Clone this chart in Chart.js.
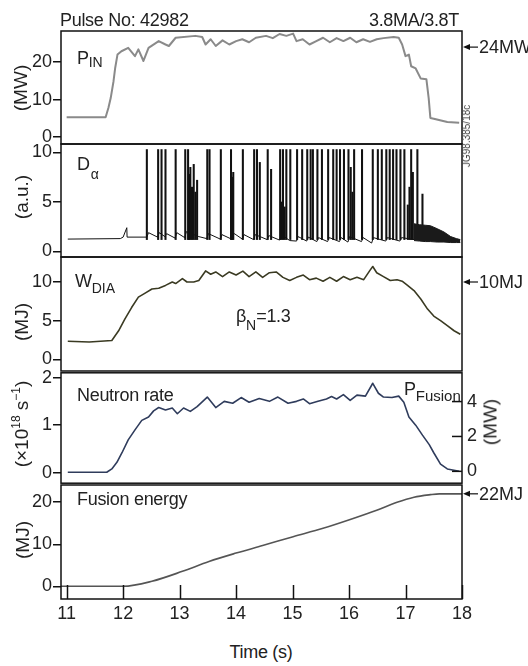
<!DOCTYPE html>
<html>
<head>
<meta charset="utf-8">
<script src="https://cdn.jsdelivr.net/npm/chart.js@4.4.1/dist/chart.umd.min.js"></script>
<style>
  body { margin: 0; background: #fff; }
  #fig { position: relative; width: 528px; height: 666px; overflow: hidden;
         font-family: 'Liberation Sans', Arial, sans-serif; color: #222; }
  #fig canvas { position: absolute; left: 0; }
  .lbl { position: absolute; font-size: 18px; line-height: 18px; white-space: nowrap; letter-spacing: -0.3px; }
  .sub { font-size: 14px; position: relative; letter-spacing: 0; }
  .rot { position: absolute; transform: translate(-50%, -50%) rotate(-90deg);
         white-space: nowrap; font-size: 19px; line-height: 19px; }
  .rot sup { font-size: 12px; line-height: 0; }
</style>
</head>
<body>
<div id="fig">
  <canvas id="cPin" width="528" height="141" style="top:17px"></canvas>
  <canvas id="cDa" width="528" height="141" style="top:130px"></canvas>
  <canvas id="cW" width="528" height="142" style="top:243px"></canvas>
  <canvas id="cN" width="528" height="142" style="top:357px"></canvas>
  <canvas id="cE" width="528" height="158" style="top:471px"></canvas>

  <div class="lbl" style="left:60px; top:11px">Pulse No: 42982</div>
  <div class="lbl" style="right:69px; top:11px">3.8MA/3.8T</div>

  <div class="lbl" style="left:77px; top:49px">P<span class="sub" style="top:3px">IN</span></div>
  <div class="lbl" style="left:77px; top:155px">D<span class="sub" style="top:9px; left:1px">α</span></div>
  <div class="lbl" style="left:75px; top:272px">W<span class="sub" style="top:6px">DIA</span></div>
  <div class="lbl" style="left:236px; top:307px">β<span class="sub" style="top:8px">N</span>=1.3</div>
  <div class="lbl" style="left:77px; top:386px">Neutron rate</div>
  <div class="lbl" style="left:404px; top:380px">P<span class="sub" style="top:6px; font-size:15px">Fusion</span></div>
  <div class="lbl" style="left:77px; top:490px">Fusion energy</div>
  <div class="lbl" style="left:261px; top:643px; transform: translateX(-50%)">Time (s)</div>

  <div class="rot" style="left:20px; top:88px">(MW)</div>
  <div class="rot" style="left:21px; top:197px">(a.u.)</div>
  <div class="rot" style="left:21px; top:322px">(MJ)</div>
  <div class="rot" style="left:21px; top:424px">(×10<sup>18</sup> s<sup>−1</sup>)</div>
  <div class="rot" style="left:22px; top:540px">(MJ)</div>
  <div class="rot" style="left:490px; top:422px">(MW)</div>
  <div class="rot" style="left:467px; top:136px; font-size:10px; line-height:10px; color:#444">JG98.385/18c</div>
</div>

<script>
// Time base shared by all traces (s)
const timeMin = 10.9;
const timeMax = 18;

// Input heating power (MW)
const pinT = [11.0, 11.69, 11.74, 11.78, 11.83, 11.86, 11.9, 11.97, 12.09, 12.21, 12.27, 12.36, 12.45,
  12.63, 12.75, 12.81, 12.93, 13.28, 13.4, 13.46, 13.55, 13.64, 13.76, 13.88, 14.0, 14.11, 14.23,
  14.35, 14.53, 14.65, 14.77, 14.89, 15.01, 15.07, 15.18, 15.3, 15.42, 15.54, 15.66, 15.78, 15.9,
  16.02, 16.13, 16.25, 16.37, 16.49, 16.61, 16.79, 16.88, 16.94, 17.0, 17.06, 17.1, 17.18, 17.27,
  17.37, 17.41, 17.44, 17.5, 17.74, 17.95];
const pinV = [5.3, 5.3, 7.8, 10.4, 14.9, 18.5, 22, 22.9, 23.8, 21.6, 23.4, 20.3, 23.8,
  25.6, 24.7, 24.3, 26.5, 27, 26.7, 24.7, 26.1, 24.3, 25.8, 24.7, 25.6, 26.1, 25.3,
  26.5, 27, 26.4, 27.5, 27, 27.6, 25.6, 26.1, 24.7, 25.6, 26.5, 25.3, 26.4, 25.6,
  26.5, 25.3, 26.1, 25.4, 26.1, 26.4, 26.7, 26.5, 24.7, 21.6, 22, 18.9, 18.3, 15.6,
  15.4, 10.4, 5.1, 4.9, 4.0, 3.8];

// D-alpha baseline between ELMs (a.u.)
const daT = [11.02, 11.95, 12.0, 12.065, 12.07, 12.42, 12.45, 12.61, 12.64, 12.74, 12.77, 12.92, 12.95,
  13.09, 13.12, 13.34, 13.48, 13.51, 13.72, 13.75, 13.9, 13.97, 14.11, 14.14, 14.31, 14.34, 14.55,
  14.58, 14.77, 14.8, 14.95, 15.07, 15.1, 15.25, 15.28, 15.43, 15.46, 15.62, 15.65, 15.83, 15.86,
  15.98, 16.01, 16.22, 16.25, 16.4, 16.43, 16.65, 16.68, 16.9, 16.93, 17.15];
const daV = [1.25, 1.3, 1.45, 2.4, 1.45, 1.45, 1.9, 1.45, 1.9, 1.5, 1.8, 1.35, 1.9,
  1.4, 2.0, 1.5, 1.3, 1.8, 1.25, 1.7, 1.3, 1.8, 1.25, 1.7, 1.2, 1.7, 1.2,
  1.6, 1.15, 1.7, 1.1, 1.05, 1.5, 1.05, 1.45, 1.0, 1.4, 1.0, 1.4, 1.0, 1.4,
  0.95, 1.5, 1.0, 1.4, 0.85, 1.4, 1.05, 1.4, 1.05, 1.4, 1.2];

// ELM spikes: time and peak height
const elmT = [12.42, 12.62, 12.68, 12.75, 12.93, 13.10, 13.15, 13.17, 13.19, 13.22, 13.25, 13.28, 13.31,
  13.49, 13.53, 13.73, 13.91, 13.93, 13.95, 14.12, 14.32, 14.37, 14.42, 14.56, 14.62, 14.78, 14.80,
  14.83, 14.86, 14.89, 14.96, 15.08, 15.17, 15.26, 15.32, 15.36, 15.44, 15.52, 15.63, 15.72, 15.78,
  15.84, 15.91, 15.99, 16.03, 16.06, 16.09, 16.23, 16.42, 16.51, 16.58, 16.66, 16.72, 16.78, 16.84,
  16.91, 16.98, 17.04, 17.07, 17.10, 17.13, 17.21, 17.30];
const elmPeak = [10.3, 10.3, 10.3, 10.3, 10.3, 10.3, 10.3, 7.8, 8.5, 6.5, 8.8, 6.0, 7.2,
  10.3, 10.3, 10.3, 10.3, 7.5, 8.0, 10.3, 10.3, 10.3, 9.0, 10.3, 8.3, 10.3, 5.0,
  10.3, 4.5, 10.3, 10.3, 10.3, 10.3, 10.3, 10.3, 10.3, 10.3, 10.3, 10.3, 10.3, 10.3,
  10.3, 10.3, 10.3, 8.5, 6.0, 10.3, 10.3, 10.3, 10.3, 10.3, 10.3, 10.3, 10.3, 10.3,
  10.3, 10.3, 4.7, 6.5, 10.3, 8.0, 10.3, 5.8];
const elmFloor = 1.2;

// Dense grassy ELM band at the end of the pulse (envelope)
const bandT = [17.15, 17.25, 17.35, 17.44, 17.56, 17.68, 17.8, 17.9, 17.97];
const bandTop = [2.8, 2.7, 2.65, 2.6, 2.3, 1.97, 1.5, 1.3, 1.2];
const bandLow = [1.1, 1.05, 1.0, 1.0, 0.95, 0.95, 0.9, 0.9, 0.9];

// Diamagnetic stored energy (MJ)
const wT = [11.02, 11.4, 11.8, 11.92, 12.03, 12.15, 12.27, 12.39, 12.51, 12.63, 12.75, 12.87, 12.93,
  13.05, 13.13, 13.25, 13.34, 13.46, 13.55, 13.64, 13.76, 13.88, 14.0, 14.12, 14.23, 14.35, 14.47,
  14.59, 14.71, 14.83, 14.95, 15.07, 15.19, 15.3, 15.42, 15.54, 15.66, 15.78, 15.9, 16.02, 16.14,
  16.26, 16.37, 16.42, 16.49, 16.61, 16.73, 16.85, 16.94, 17.03, 17.15, 17.27, 17.39, 17.5, 17.62,
  17.74, 17.86, 17.97];
const wV = [2.35, 2.25, 2.45, 3.7, 5.2, 6.7, 8.05, 8.57, 9.1, 9.2, 9.56, 10.0, 9.8,
  10.44, 10.0, 10.0, 10.2, 11.43, 11.0, 11.3, 10.7, 11.3, 10.9, 11.4, 10.7, 11.3, 10.6,
  11.2, 11.3, 10.6, 10.2, 10.6, 10.9, 10.3, 10.5, 10.1, 10.6, 10.1, 10.7, 10.3, 10.6,
  10.3, 11.5, 12.0, 11.2, 10.7, 10.2, 10.3, 10.1, 9.6, 8.9, 7.8, 6.5, 5.6, 5.0,
  4.35, 3.7, 3.25];

// Neutron rate (1e18 /s)
const nT = [11.02, 11.71, 11.8, 11.89, 11.98, 12.09, 12.21, 12.33, 12.45, 12.54, 12.63, 12.75, 12.87,
  12.96, 13.07, 13.19, 13.31, 13.49, 13.64, 13.79, 13.94, 14.09, 14.23, 14.41, 14.59, 14.74, 14.92,
  15.07, 15.19, 15.3, 15.45, 15.6, 15.69, 15.78, 15.9, 16.02, 16.14, 16.29, 16.42, 16.52, 16.61,
  16.76, 16.88, 16.97, 17.06, 17.18, 17.3, 17.42, 17.5, 17.62, 17.74, 17.95];
const nV = [0.01, 0.01, 0.08, 0.22, 0.42, 0.69, 0.9, 1.1, 1.17, 1.3, 1.37, 1.32, 1.36,
  1.24, 1.36, 1.29, 1.39, 1.59, 1.37, 1.5, 1.46, 1.58, 1.48, 1.56, 1.5, 1.59, 1.46,
  1.5, 1.55, 1.45, 1.5, 1.55, 1.6, 1.55, 1.64, 1.52, 1.63, 1.61, 1.88, 1.67, 1.59,
  1.58, 1.61, 1.48, 1.17, 1.0, 0.79, 0.59, 0.42, 0.18, 0.08, 0.03];

// Integrated fusion energy (MJ)
const eT = [10.9, 12.0, 12.51, 13.05, 13.52, 14.0, 14.47, 15.01, 15.54, 16.02, 16.49, 16.85, 17.15, 17.44, 17.6, 18.0];
const eV = [0, 0, 1.2, 3.56, 5.9, 7.9, 9.7, 11.8, 13.8, 15.9, 18.1, 20.0, 21.2, 21.8, 22, 22];

// Reference levels marked by arrows on the right edge
const pinRef = 24;
const wRef = 10;
const eRef = 22;

const FONT = "'Liberation Sans', Arial, sans-serif";
Chart.defaults.font.family = FONT;
Chart.defaults.font.size = 18;
Chart.defaults.color = '#222';

const pts = (ts, vs) => ts.map((t, i) => ({ x: t, y: vs[i] }));

// frame around each panel, inward ticks and the arrow markers
const framePlugin = {
  id: 'frame',
  afterDatasetsDraw(chart, args, opts) {
    const { ctx, chartArea: a } = chart;
    ctx.save();
    ctx.strokeStyle = '#111';
    ctx.lineWidth = 1.5;
    ctx.strokeRect(a.left, a.top, a.right - a.left, a.bottom - a.top);
    if (opts.innerX) {
      const xs = chart.scales.x;
      xs.ticks.forEach(t => {
        const px = Math.round(xs.getPixelForValue(t.value)) + 0.5;
        ctx.beginPath(); ctx.moveTo(px, a.bottom); ctx.lineTo(px, a.bottom - 14); ctx.stroke();
      });
    }
    if (opts.innerRight) {
      const ys = chart.scales.y2;
      ys.ticks.forEach(t => {
        const py = ys.getPixelForValue(t.value);
        ctx.beginPath(); ctx.moveTo(a.right, py); ctx.lineTo(a.right - 10, py); ctx.stroke();
      });
    }
    if (opts.marker) {
      const py = chart.scales.y.getPixelForValue(opts.marker.value);
      const x0 = a.right + 1;
      ctx.lineWidth = 1.2;
      ctx.beginPath(); ctx.moveTo(x0 + 4, py); ctx.lineTo(x0 + 15, py); ctx.stroke();
      ctx.fillStyle = '#111';
      ctx.beginPath(); ctx.moveTo(x0, py); ctx.lineTo(x0 + 7, py - 3); ctx.lineTo(x0 + 7, py + 3); ctx.closePath(); ctx.fill();
      ctx.font = '18px ' + FONT;
      ctx.fillStyle = '#222';
      ctx.textBaseline = 'middle';
      ctx.fillText(opts.marker.text, x0 + 16, py + 1);
    }
    ctx.restore();
  }
};

function panel(id, datasets, y, opts) {
  const scales = {
    x: {
      type: 'linear', min: timeMin, max: timeMax, offset: false, display: !!opts.xTicks,
      grid: { display: false, drawTicks: false }, border: { display: false },
      ticks: { stepSize: 1, includeBounds: false, autoSkip: false, maxRotation: 0, padding: 4 }
    },
    y: {
      min: y.min, max: y.max,
      afterFit: s => { s.width = 61; },
      border: { display: false },
      grid: { drawOnChartArea: false, tickLength: 8, color: '#111', lineWidth: 1.5 },
      ticks: { stepSize: y.step, includeBounds: false, padding: 1 }
    }
  };
  if (opts.xTicks) scales.x.afterFit = s => { s.height = 30; };
  if (opts.y2) {
    scales.y2 = {
      position: 'right', min: opts.y2.min, max: opts.y2.max,
      afterFit: s => { s.width = 66; },
      border: { display: false },
      grid: { display: false, drawTicks: false },
      ticks: { stepSize: opts.y2.step, includeBounds: false, padding: 5 }
    };
  }
  return new Chart(document.getElementById(id), {
    type: 'line',
    data: { datasets },
    options: {
      responsive: false, animation: false, events: [],
      layout: { padding: { top: 14, bottom: opts.xTicks ? 0 : 14, left: 0, right: opts.y2 ? 0 : 66 } },
      plugins: { legend: { display: false }, tooltip: { enabled: false }, frame: opts.frame || {} },
      elements: { point: { radius: 0 }, line: { borderJoinStyle: 'round', tension: 0 } },
      scales
    },
    plugins: [framePlugin]
  });
}

panel('cPin', [
  { data: pts(pinT, pinV), borderColor: '#8a8a8a', borderWidth: 2 }
], { min: -1.85, max: 28.3, step: 10 }, { frame: { marker: { value: pinRef, text: pinRef + 'MW' } } });

panel('cDa', [
  { data: pts(daT, daV), borderColor: '#111', borderWidth: 1 },
  { data: pts(bandT, bandTop), borderColor: '#1a1a1a', borderWidth: 1, backgroundColor: '#1a1a1a', fill: '+1' },
  { data: pts(bandT, bandLow), borderColor: '#1a1a1a', borderWidth: 1 },
  {
    type: 'bar', data: elmT.map((t, i) => ({ x: t, y: [elmFloor, elmPeak[i]] })),
    backgroundColor: '#111', borderWidth: 0, barThickness: 1.4, grouped: false
  }
], { min: -0.56, max: 10.86, step: 5 }, {});

panel('cW', [
  { data: pts(wT, wV), borderColor: '#3a3a22', borderWidth: 1.6 }
], { min: -1.5, max: 13.23, step: 5 }, { frame: { marker: { value: wRef, text: wRef + 'MJ' } } });

panel('cN', [
  { data: pts(nT, nV), borderColor: '#2f3c5c', borderWidth: 1.6 }
], { min: -0.22, max: 2.1, step: 1 }, { y2: { min: -0.68, max: 5.65, step: 2 }, frame: { innerRight: true } });

panel('cE', [
  { data: pts(eT, eV), borderColor: '#555', borderWidth: 1.6, cubicInterpolationMode: 'monotone' }
], { min: -3.02, max: 24.1, step: 10 }, { xTicks: true, frame: { innerX: true, marker: { value: eRef, text: eRef + 'MJ' } } });
</script>
</body>
</html>
